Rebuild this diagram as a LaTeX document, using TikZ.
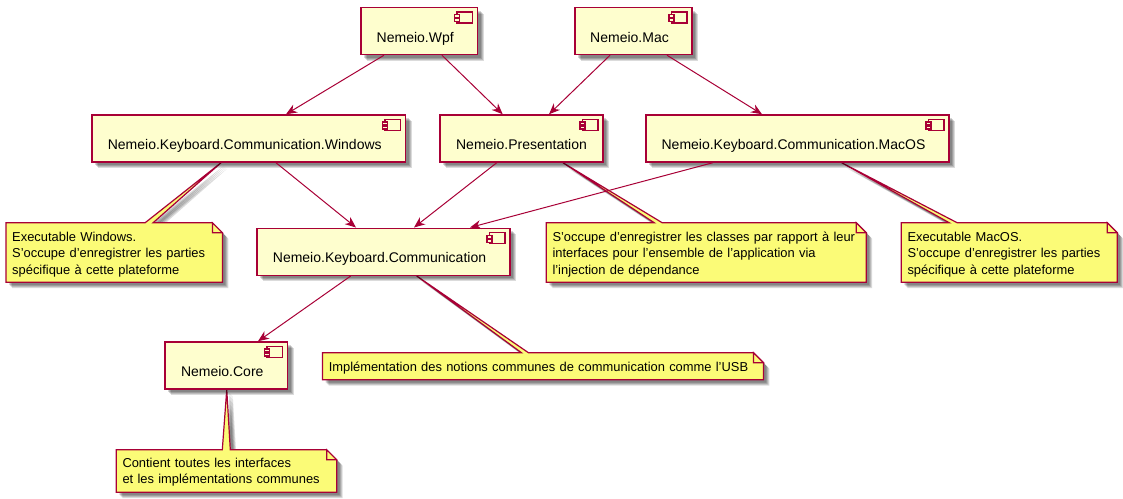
\documentclass[tikz,border=0pt]{standalone}
\usepackage{fontspec}
\setmainfont{Liberation Sans}
\usetikzlibrary{arrows.meta,backgrounds}
\definecolor{umlline}{HTML}{A80036}
\definecolor{umlbox}{HTML}{FEFECE}
\definecolor{umlnote}{HTML}{FBFB77}
\tikzset{
  softshadow/.style={
    preaction={draw=none,fill=black,fill opacity=.14,transform canvas={shift={(6pt,-6pt)}}},
    preaction={draw=none,fill=black,fill opacity=.14,transform canvas={shift={(5pt,-5pt)}}},
    preaction={draw=none,fill=black,fill opacity=.16,transform canvas={shift={(4pt,-4pt)}}},
    preaction={draw=none,fill=black,fill opacity=.16,transform canvas={shift={(3pt,-3pt)}}}},
  component/.style={draw=umlline,line width=1.5pt,fill=umlbox,softshadow,
    inner sep=0pt,minimum height=47pt,text height=22pt,text depth=0pt,
    font=\fontsize{14}{16}\selectfont,execute at end node={\hspace*{8pt}},
    path picture={
      \draw[umlline,line width=1.2pt,fill=umlbox]
        ([shift={(-20.5pt,-4.5pt)}]path picture bounding box.north east) rectangle
        ([shift={(-5pt,-15.5pt)}]path picture bounding box.north east);
      \draw[umlline,line width=1.2pt,fill=umlbox]
        ([shift={(-23pt,-7pt)}]path picture bounding box.north east) rectangle
        ([shift={(-18pt,-10pt)}]path picture bounding box.north east);
      \draw[umlline,line width=1.2pt,fill=umlbox]
        ([shift={(-23pt,-11pt)}]path picture bounding box.north east) rectangle
        ([shift={(-18pt,-14pt)}]path picture bounding box.north east);
    }},
  notetext/.style={inner xsep=6pt,inner ysep=4pt,align=left,text height=12pt,
    font=\fontsize{12.9}{16.5}\selectfont},
  noteline/.style={draw=umlline,line width=1.2pt,fill=umlnote,line join=miter},
  flow/.style={umlline,line width=1pt,-{Stealth[length=11pt,width=9pt,inset=3.5pt]}},
}
% note outline: node, apex of the wedge, wedge base left, wedge base right
\newcommand{\notepaper}[4]{%
  \begin{pgfonlayer}{background}
    \draw[noteline,softshadow] (#1.north west) -- ([xshift=#3]#1.north west) -- #2
      -- ([xshift=#4]#1.north west) -- ([xshift=-10]#1.north east)
      -- ([yshift=-10]#1.north east) -- (#1.south east) -- (#1.south west) -- cycle;
    \draw[noteline] ([xshift=-10]#1.north east) -- ([xshift=-10,yshift=-10]#1.north east)
      -- ([yshift=-10]#1.north east) -- cycle;
  \end{pgfonlayer}}
\begin{document}
\begin{tikzpicture}[x=1pt,y=-1pt]
      \useasboundingbox (0,0) rectangle (1123,498);
      \node[component,minimum width=116.5pt] (wpf) at (419.25,31) {Nemeio.Wpf};
      \node[component,minimum width=117pt] (mac) at (633.5,31) {Nemeio.Mac};
      \node[component,minimum width=313.5pt] (windows) at (248.75,138.5) {Nemeio.Keyboard.Communication.Windows};
      \node[component,minimum width=163pt,execute at end node={\hspace*{-8pt}}] (presentation) at (521.5,138.5) {Nemeio.Presentation};
      \node[component,minimum width=303pt] (macos) at (797.5,138.5) {Nemeio.Keyboard.Communication.MacOS};
      \node[component,minimum width=253pt] (communication) at (383.5,251.75) {Nemeio.Keyboard.Communication};
      \node[component,minimum width=122.5pt] (core) at (226.25,365.5) {Nemeio.Core};

      \node[notetext,text width=204pt,minimum height=59pt,text depth=35pt] (windowsnote) at (114.25,252.5)
        {Executable Windows.\\S'occupe d'enregistrer les parties\\spécifique à cette plateforme};
      \node[notetext,text width=307.5pt,minimum height=59pt,text depth=35pt] (presentationnote) at (706.25,252.5)
        {S'occupe d'enregistrer les classes par rapport à leur\\interfaces pour l'ensemble de l'application via\\l'injection de dépendance};
      \node[notetext,text width=203.5pt,minimum height=59pt,text depth=35pt] (macosnote) at (1009.25,252.5)
        {Executable MacOS.\\S'occupe d'enregistrer les parties\\spécifique à cette plateforme};
      \node[notetext,text width=428.5pt,minimum height=26.5pt,text depth=2.5pt] (communicationnote) at (543,366.25)
        {Implémentation des notions communes de communication comme l'USB};
      \node[notetext,text width=208pt,minimum height=42pt,text depth=19.5pt] (corenote) at (226.5,471)
        {Contient toutes les interfaces\\et les implémentations communes};

      \notepaper{windowsnote}{([xshift=-27.75]windows.south)}{139}{147}
      \notepaper{presentationnote}{([xshift=41.5]presentation.south)}{108}{116}
      \notepaper{macosnote}{([xshift=44.2]macos.south)}{48}{56}
      \notepaper{communicationnote}{([xshift=33.2]communication.south)}{199}{206}
      \notepaper{corenote}{([xshift=0.5]core.south)}{106}{114}

      \draw[flow] ([xshift=-35.3]wpf.south) -- ([xshift=37.25]windows.north);
      \draw[flow] ([xshift=22.7]wpf.south) -- ([xshift=-18.8]presentation.north);
      \draw[flow] ([xshift=-23.5]mac.south) -- ([xshift=27.5]presentation.north);
      \draw[flow] ([xshift=33.5]mac.south) -- ([xshift=-35.5]macos.north);
      \draw[flow] ([xshift=27.25]windows.south) -- ([xshift=-27.5]communication.north);
      \draw[flow] ([xshift=-24.8]presentation.south) -- ([xshift=30.5]communication.north);
      \draw[flow] ([xshift=-84.8]macos.south) -- ([xshift=86.5]communication.north);
      \draw[flow] ([xshift=-32.8]communication.south) -- ([xshift=31.75]core.north);
    \end{tikzpicture}
\end{document}
